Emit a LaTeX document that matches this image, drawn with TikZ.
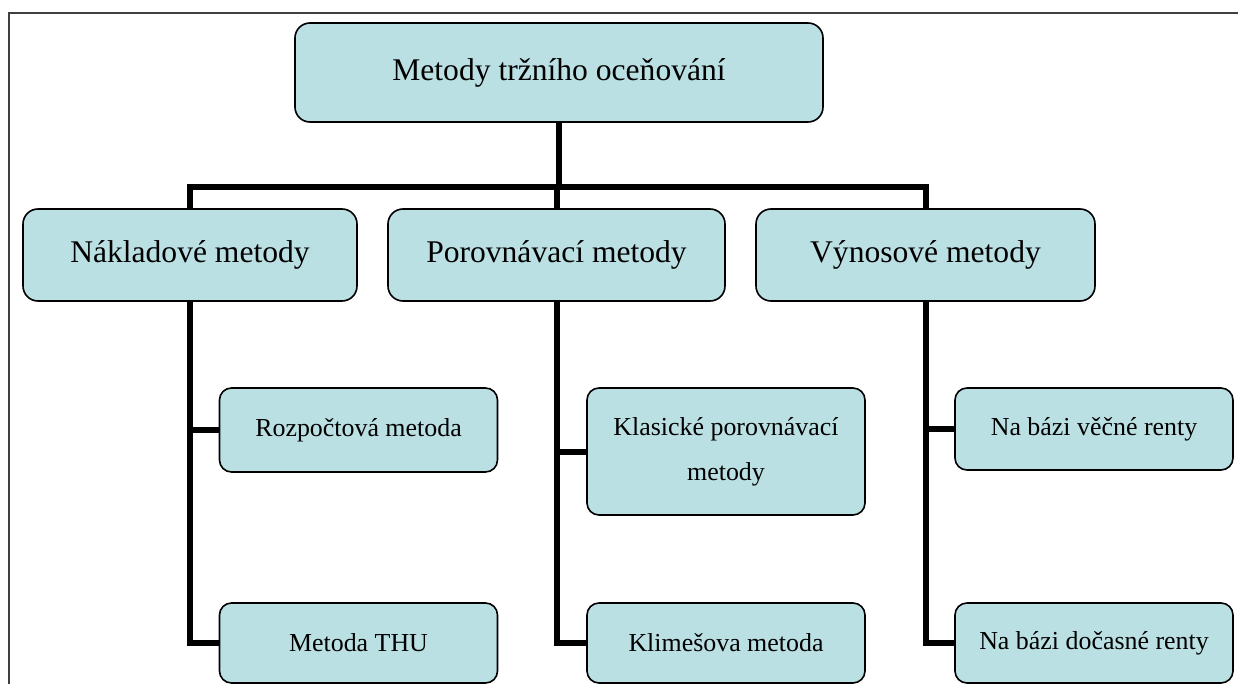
\documentclass[tikz,border=0pt]{standalone}
\usepackage{fontspec}
\setmainfont{Liberation Serif}
\definecolor{boxfill}{HTML}{BBE0E3}
\definecolor{framegray}{HTML}{404040}
\begin{document}
\begin{tikzpicture}[x=1bp,y=-1bp,
  box/.style={draw=black, line width=1.6bp, fill=boxfill, rounded corners=15bp, inner sep=0pt, align=center},
  bigbox/.style={box, font=\fontsize{31.7}{38}\selectfont},
  smallbox/.style={box, rounded corners=12bp, minimum width=278bp, font=\fontsize{26}{45}\selectfont},
  conn/.style={draw=black, line width=6bp, line join=miter}
]
\useasboundingbox (0,0) rectangle (1238,684);
\clip (0,0) rectangle (1238,684);
% frame
\draw[framegray, line width=2bp] (8.5,720) -- (8.5,13.5) -- (1260,13.5);
% nodes
\node[bigbox, minimum width=528bp, minimum height=99bp] (top) at (559,72.5) {Metody tržního oceňování};
\node[bigbox, minimum width=334bp, minimum height=92bp] (nak) at (190,255) {Nákladové metody};
\node[bigbox, minimum width=337bp, minimum height=92bp] (por) at (556.5,255) {Porovnávací metody};
\node[bigbox, minimum width=339bp, minimum height=92bp] (vyn) at (925.5,255) {Výnosové metody};
\node[smallbox, minimum height=84bp] (roz) at (358.5,430) {Rozpočtová metoda};
\node[smallbox, minimum height=80bp] (thu) at (358.5,643) {Metoda THU};
\node[smallbox, minimum height=127bp] (kla) at (726,451.5) {Klasické porovnávací\\metody};
\node[smallbox, minimum height=80bp] (kli) at (726,643) {Klimešova metoda};
\node[smallbox, minimum height=82bp] (vec) at (1094,429) {Na bázi věčné renty};
\node[smallbox, minimum height=80bp] (doc) at (1094,643) {Na bázi dočasné renty};
\coordinate (bar) at (0,187);
% connectors
\draw[conn] (top.south) -- (top.south |- bar);
\draw[conn] (nak.north) -- (nak.north |- bar) -- (vyn.north |- bar) -- (vyn.north);
\draw[conn] (por.north |- bar) -- (por.north);
\draw[conn] (nak.south) -- (nak.south |- thu.west) -- (thu.west);
\draw[conn] (nak.south |- roz.west) -- (roz.west);
\draw[conn] (por.south) -- (por.south |- kli.west) -- (kli.west);
\draw[conn] (por.south |- kla.west) -- (kla.west);
\draw[conn] (vyn.south) -- (vyn.south |- doc.west) -- (doc.west);
\draw[conn] (vyn.south |- vec.west) -- (vec.west);
\end{tikzpicture}
\end{document}
